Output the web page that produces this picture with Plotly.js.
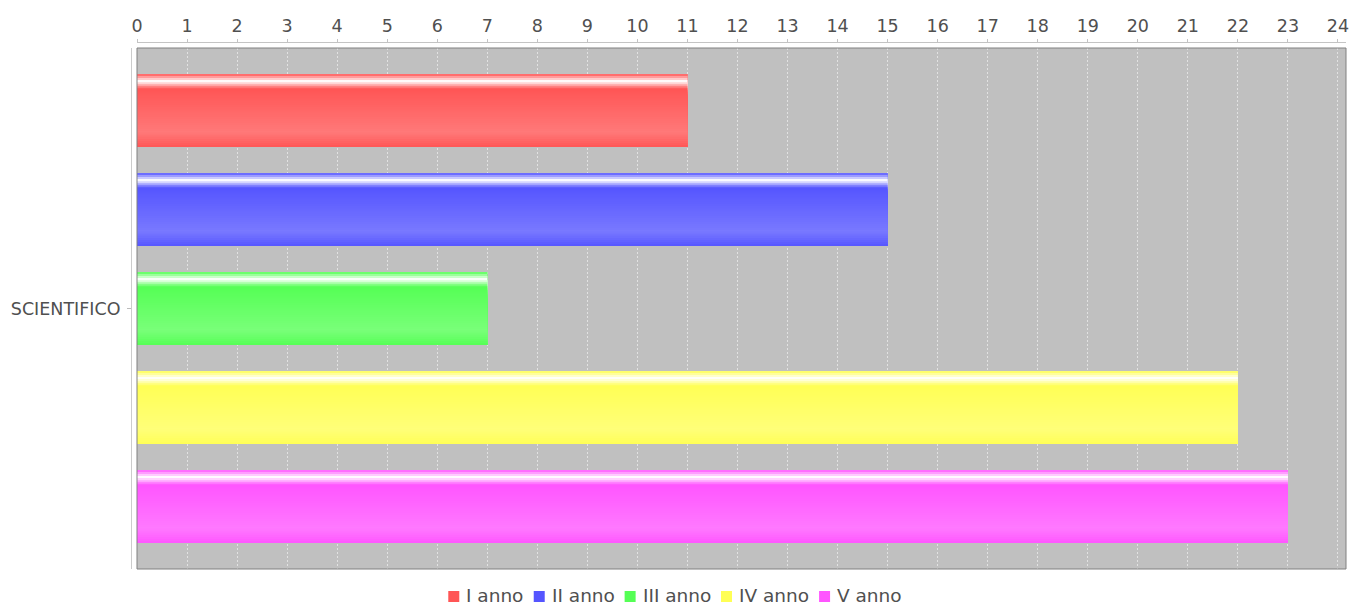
<!DOCTYPE html>
<html><head><meta charset="utf-8">
<script src="https://cdn.plot.ly/plotly-3.0.1.min.js"></script>
<style>html,body{margin:0;padding:0;background:#fff;} #chart{width:1352px;height:607px;}</style>
</head><body><div id="chart"></div>
<script>
// ---- data ----
const categories = ['SCIENTIFICO'];
const seriesNames = ['I anno', 'II anno', 'III anno', 'IV anno', 'V anno'];
const iAnno = [11];
const iiAnno = [15];
const iiiAnno = [7];
const ivAnno = [22];
const vAnno = [23];
const seriesValues = [iAnno, iiAnno, iiiAnno, ivAnno, vAnno];
const seriesColors = ['#ff5555', '#5555ff', '#55ff55', '#ffff55', '#ff55ff'];

// ---- layout geometry ----
const W = 1352, H = 607;
const M = {l: 131, r: 6, t: 42, b: 38};
const paperW = W - M.l - M.r, paperH = H - M.t - M.b;
const xdom0 = 6 / paperW;
const ydom1 = 521 / paperH;
const px2x = px => (px - M.l) / paperW;
const py2y = py => (H - M.b - py) / paperH;

const n = seriesValues.length;
const bargap = 0.05, groupgap = 0.263;
const slot = (1 - bargap) / n;
const barW = slot * (1 - groupgap);
function barStart(i) { return -(1 - bargap) / 2 + slot * i + slot * groupgap / 2; }

// glossy gradient profile: fraction of white mixed into the base colour
function whiteMix(f) {
  const c1 = 0.2118;
  if (f < 0.1) return f / 0.1;
  if (f < 0.2) return 1 - (f - 0.1) / 0.1;
  if (f < 0.8) return c1 * (f - 0.2) / 0.6;
  return c1 * (1 - (f - 0.8) / 0.2);
}
function mix(hex, t) {
  const r = parseInt(hex.slice(1, 3), 16), g = parseInt(hex.slice(3, 5), 16), b = parseInt(hex.slice(5, 7), 16);
  const m = v => Math.round(v + (255 - v) * t);
  return 'rgb(' + m(r) + ',' + m(g) + ',' + m(b) + ')';
}

const traces = [];
seriesValues.forEach((vals, i) => {
  traces.push({
    type: 'bar', orientation: 'h', name: seriesNames[i], showlegend: false,
    x: vals, y: categories, base: 0,
    width: barW, offset: barStart(i),
    marker: {color: seriesColors[i], line: {width: 0}},
    hoverinfo: 'skip'
  });
});
// gradient layers: each layer starts lower and runs to the bar's bottom edge, so no seams
const S = 36;
seriesValues.forEach((vals, i) => {
  for (let k = 0; k < S; k++) {
    const f0 = k / S, f1 = (k + 1) / S;
    traces.push({
      type: 'bar', orientation: 'h', showlegend: false,
      x: vals, y: categories, base: 0,
      width: barW * (1 - f0), offset: barStart(i) + barW * f0,
      marker: {color: mix(seriesColors[i], whiteMix((f0 + f1) / 2)), line: {width: 0}},
      hoverinfo: 'skip'
    });
  }
});

const fontFamily = 'DejaVu Sans';
const font = {family: fontFamily, size: 17.5, color: '#505050'};
const legFont = {family: fontFamily, size: 18.5, color: '#505050'};

// ---- legend (squares + texts, centred under the chart) ----
const ctx = document.createElement('canvas').getContext('2d');
ctx.font = legFont.size + 'px "' + fontFamily + '"';
const sq = 11, gapText = 7, gapItem = 10;
const widths = seriesNames.map(s => ctx.measureText(s).width);
const total = widths.reduce((a, w) => a + sq + gapText + w, 0) + gapItem * (n - 1);
let cx = 675 - total / 2;
const textY = 595.5, sqY = 596.5;
const shapes = [{
  type: 'rect', xref: 'paper', yref: 'paper', x0: xdom0, x1: 1, y0: 0, y1: ydom1,
  line: {color: '#808080', width: 1}, layer: 'above'
}];
const annotations = [];
seriesNames.forEach((name, i) => {
  shapes.push({
    type: 'rect', xref: 'paper', yref: 'paper',
    x0: px2x(cx), x1: px2x(cx + sq), y0: py2y(sqY + sq / 2), y1: py2y(sqY - sq / 2),
    fillcolor: seriesColors[i], line: {width: 0}
  });
  annotations.push({
    xref: 'paper', yref: 'paper', x: px2x(cx + sq + gapText - 1), y: py2y(textY),
    xanchor: 'left', yanchor: 'middle', showarrow: false, text: name, font: legFont, borderpad: 0
  });
  cx += sq + gapText + widths[i] + gapItem;
});

const layout = {
  width: W, height: H,
  margin: M,
  paper_bgcolor: '#ffffff',
  plot_bgcolor: '#c0c0c0',
  barmode: 'overlay',
  showlegend: false,
  hovermode: false,
  xaxis: {
    domain: [xdom0, 1], anchor: 'free', position: 1, side: 'top',
    range: [0, 24.16], tick0: 0, dtick: 1,
    showgrid: true, gridcolor: '#e2e2e2', griddash: '2px,2px', gridwidth: 1,
    zeroline: false, showline: true, linecolor: '#c4c4c4', linewidth: 1,
    ticks: 'outside', ticklen: 3, tickcolor: '#c4c4c4',
    tickfont: font, fixedrange: true
  },
  yaxis: {
    domain: [0, ydom1], anchor: 'free', position: 0,
    type: 'category', range: [0.5, -0.5],
    showgrid: false, zeroline: false, showline: true, linecolor: '#cccccc', linewidth: 1,
    ticks: 'outside', ticklen: 4, tickcolor: '#bbbbbb', ticklabelstandoff: 3,
    tickfont: font, fixedrange: true
  },
  shapes: shapes,
  annotations: annotations
};
Plotly.newPlot('chart', traces, layout, {displayModeBar: false});
</script>
</body></html>
